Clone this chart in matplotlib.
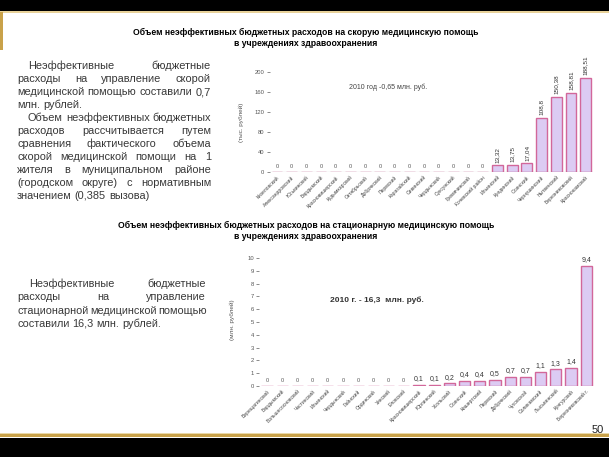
import matplotlib
matplotlib.use("Agg")
import matplotlib.pyplot as plt
from matplotlib.patches import Rectangle

plt.rcParams['font.family'] = ['Liberation Sans', 'DejaVu Sans']

# ---- data ----
title1 = "Объем неэффективных бюджетных расходов на скорую медицинскую помощь\nв учреждениях здравоохранения"
title2 = "Объем неэффективных бюджетных расходов на стационарную медицинскую помощь\nв учреждениях здравоохранения"

districts1 = ["Кизеловский", "Александровский", "Юсьвинский", "Бардымский", "Красновишерский",
              "Кудымкарский", "Октябрьский", "Добрянский", "Пермский", "Карагайский",
              "Сивинский", "Чердынский", "Суксунский", "Гремячинский", "Кочевский район",
              "Ильинский", "Куединский", "Осинский", "Чернушинский", "Нытвенский",
              "Березниковский", "Краснокамский"]
values1 = [0, 0, 0, 0, 0, 0, 0, 0, 0, 0, 0, 0, 0, 0, 0,
           13.32, 13.75, 17.04, 108.8, 150.38, 158.81, 188.51]
yticks1 = [0, 40, 80, 120, 160, 200]
note1 = "2010 год -0,65 млн. руб."
ylabel1 = "(тыс. рублей)"

districts2 = ["Верещагинский", "Бардымский", "Большесосновский", "Частинский", "Ильинский",
              "Чердынский", "Гайнский", "Ординский", "Уинский", "Еловский",
              "Красновишерский", "Юрлинский", "Усольский", "Осинский", "Кишертский",
              "Пермский", "Добрянский", "Чусовской", "Соликамский", "Лысьвенский",
              "Кунгурский", "Березниковский г."]
values2 = [0, 0, 0, 0, 0, 0, 0, 0, 0, 0,
           0.1, 0.1, 0.2, 0.4, 0.4, 0.5, 0.7, 0.7, 1.1, 1.3, 1.4, 9.4]
yticks2 = list(range(0, 11))
note2 = "2010 г. - 16,3  млн. руб."
ylabel2 = "(млн. рублей)"

para1 = [
    ["Неэффективные бюджетные",
     "расходы на управление скорой",
     "медицинской помощью составили 0,7",
     "млн. рублей."],
    ["Объем неэффективных бюджетных",
     "расходов рассчитывается путем",
     "сравнения фактического объема",
     "скорой медицинской помощи на 1",
     "жителя в муниципальном районе",
     "(городском округе) с нормативным",
     "значением (0,385 вызова)"],
]
para2 = [
    ["Неэффективные бюджетные",
     "расходы на управление",
     "стационарной медицинской помощью",
     "составили 16,3 млн. рублей."],
]
page_no = "50"

W, H = 609, 457
BAR_FACE = "#dccbf3"
BAR_EDGE = "#d2679a"
GOLD = "#c9a24a"

fig = plt.figure(figsize=(W / 100, H / 100), dpi=100)
fig.patch.set_facecolor("white")


def fx(px):
    return px / W


def fy(py):
    return 1 - py / H


# slide decoration
fig.add_artist(Rectangle((0, fy(11)), 1, 11 / H, transform=fig.transFigure, color="black", lw=0))
fig.add_artist(Rectangle((0, fy(12.5)), 1, 1.5 / H, transform=fig.transFigure, color="#e8d29a", lw=0))
fig.add_artist(Rectangle((0, fy(50)), fx(2.5), 38 / H, transform=fig.transFigure, color=GOLD, lw=0))
fig.add_artist(Rectangle((0, fy(437)), 1, 3 / H, transform=fig.transFigure, color=GOLD, lw=0))
fig.add_artist(Rectangle((0, fy(433.5)), 1, 1 / H, transform=fig.transFigure, color="#ead9a8", lw=0))
fig.add_artist(Rectangle((0, 0), 1, fy(438), transform=fig.transFigure, color="black", lw=0))
fig.text(fx(604), fy(430), page_no, fontsize=8, ha="right", va="center", color="#222222")

# titles
fig.text(fx(306), fy(38), title1, fontsize=6.2, fontweight="bold", ha="center", va="center",
         linespacing=1.3)
fig.text(fx(306), fy(231), title2, fontsize=6.2, fontweight="bold", ha="center", va="center",
         linespacing=1.3)

renderer = fig.canvas.get_renderer()


def text_width(s, size):
    t = fig.text(0, 0, s, fontsize=size)
    w = t.get_window_extent(renderer).width
    t.remove()
    return w


def justified(paragraphs, x0, x1, indent, y_first, step, size):
    sp = text_width("a a", size) - 2 * text_width("a", size)
    y = y_first
    for lines in paragraphs:
        for k, line in enumerate(lines):
            words = line.split()
            start = indent if k == 0 else x0
            objs = [fig.text(0, fy(y), w, fontsize=size, color="#383838", va="center")
                    for w in words]
            widths = [o.get_window_extent(renderer).width for o in objs]
            last = k == len(lines) - 1
            if last or len(words) == 1:
                gap = sp
            else:
                gap = max(sp * 0.6, (x1 - start - sum(widths)) / (len(words) - 1))
            xx = start
            for o, w in zip(objs, widths):
                o.set_x(fx(xx))
                xx += w + gap
            y += step


justified(para1, 17, 211, 28, 66, 13.0, 7.9)
justified(para2, 17, 206, 29, 284, 13.3, 7.8)


def bar_panel(ax, names, vals, ticks, fmt, rot_vals):
    x = range(len(vals))
    bars = ax.bar(x, vals, width=0.74, color=BAR_FACE, edgecolor=BAR_EDGE, linewidth=1.0)
    ax.set_xlim(-0.5, len(vals) - 0.5)
    ax.set_xticks(list(x))
    ax.set_xticklabels(names, rotation=45, ha="right", rotation_mode="anchor",
                       fontsize=3.6, color="#444444")
    ax.set_yticks(ticks)
    ax.set_yticklabels([str(t) for t in ticks], fontsize=4.2, color="#555555")
    ax.tick_params(axis="y", length=2, width=0.6, color="#777777", pad=2)
    ax.tick_params(axis="x", length=0, pad=2)
    for s in ax.spines.values():
        s.set_visible(False)
    ax.patch.set_alpha(0)
    for b, v in zip(bars, vals):
        cx = b.get_x() + b.get_width() / 2
        if v == 0:
            ax.annotate("0", (cx, 0), xytext=(0, 2), textcoords="offset points",
                        ha="center", va="bottom", fontsize=4, color="#555555")
        else:
            ax.annotate(fmt(v), (cx, v), xytext=(0, 2), textcoords="offset points",
                        ha="center", va="bottom", fontsize=4.6 if rot_vals else 5,
                        rotation=90 if rot_vals else 0, color="#333333")


# chart 1
ax1 = fig.add_axes([fx(269.6), fy(172), fx(323.4), 100 / H])
bar_panel(ax1, districts1, values1, yticks1,
          lambda v: f"{v:.2f}".rstrip("0").replace(".", ","), True)
ax1.set_ylim(0, 200)
ax1.axhline(0, color="#999999", lw=0.8)
ax1.set_ylabel(ylabel1, fontsize=4.6, color="#555555")
ax1.yaxis.set_label_coords(-0.08, 0.5)
ax1.text(0.245, 0.83, note1, transform=ax1.transAxes, fontsize=5, color="#444444")

# chart 2
ax2 = fig.add_axes([fx(259.4), fy(386), fx(334.4), 128 / H])
bar_panel(ax2, districts2, values2, yticks2,
          lambda v: f"{v:.1f}".replace(".", ","), False)
ax2.set_ylim(0, 10)
ax2.set_ylabel(ylabel2, fontsize=4.6, color="#555555")
ax2.yaxis.set_label_coords(-0.073, 0.52)
ax2.text(0.21, 0.66, note2, transform=ax2.transAxes, fontsize=6, fontweight="bold",
         color="#333333")

fig.savefig("out.png", dpi=100)
